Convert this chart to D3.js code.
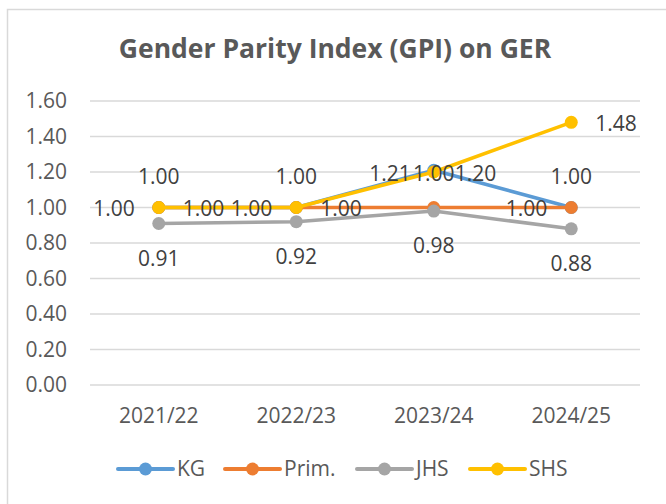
<!DOCTYPE html>
<html>
<head>
<meta charset="utf-8">
<script src="https://cdn.jsdelivr.net/npm/d3@7"></script>
<style>
  body { margin: 0; background: #fff; }
  svg { display: block; font-family: "Open Sans", sans-serif; }
</style>
</head>
<body>
<svg id="chart"></svg>
<script>
// data
const years = ["2021/22", "2022/23", "2023/24", "2024/25"];
const kg = [1.00, 1.00, 1.21, 1.00];
const prim = [1.00, 1.00, 1.00, 1.00];
const jhs = [0.91, 0.92, 0.98, 0.88];
const shs = [1.00, 1.00, 1.20, 1.48];
const yTicks = [0, 0.2, 0.4, 0.6, 0.8, 1.0, 1.2, 1.4, 1.6];

const series = [
  { name: "KG", values: kg, color: "#5B9BD5", labelPos: "left" },
  { name: "Prim.", values: prim, color: "#ED7D31", labelPos: "top" },
  { name: "JHS", values: jhs, color: "#A5A5A5", labelPos: "bottom" },
  { name: "SHS", values: shs, color: "#FFC000", labelPos: "right" }
];

// labels squeezed together at 2023/24 (like excel did it)
const labelNudge = {
  "KG-2": [1, 2],
  "Prim.-2": [0, -3],
  "SHS-2": [-3, 0]
};

const width = 666, height = 504;
const svg = d3.select("#chart").attr("width", width).attr("height", height);

// chart frame (cropped at right / bottom)
svg.append("rect")
  .attr("x", 7.5).attr("y", 9.5)
  .attr("width", 700).attr("height", 520)
  .attr("fill", "#fff")
  .attr("stroke", "#d9d9d9").attr("stroke-width", 1.5);

svg.append("text")
  .attr("x", 335).attr("y", 58)
  .attr("text-anchor", "middle")
  .attr("font-size", "26.5px")
  .attr("font-weight", "bold")
  .attr("fill", "#595959")
  .text("Gender Parity Index (GPI) on GER");

const x = d3.scaleBand().domain(years).range([90, 640]);
const y = d3.scaleLinear().domain([0, 1.6]).range([385, 101]);
const cx = d => x(d) + x.bandwidth() / 2;

// gridlines
svg.append("g")
  .selectAll("line")
  .data(yTicks)
  .join("line")
  .attr("x1", 90).attr("x2", 640)
  .attr("y1", d => y(d)).attr("y2", d => y(d))
  .attr("stroke", "#d9d9d9").attr("stroke-width", 1.3);

// y axis labels
const yAxis = svg.append("g")
  .attr("transform", "translate(67,0)")
  .call(d3.axisLeft(y).tickValues(yTicks).tickFormat(d3.format(".2f")).tickSize(0).tickPadding(0));
yAxis.select(".domain").remove();
yAxis.selectAll("text")
  .attr("font-family", "Open Sans, sans-serif")
  .attr("font-size", "21px")
  .attr("fill", "#595959");

// x axis labels
const xAxis = svg.append("g")
  .attr("transform", "translate(0,408)")
  .call(d3.axisBottom(x).tickSize(0).tickPadding(0));
xAxis.select(".domain").remove();
xAxis.selectAll("text")
  .attr("font-family", "Open Sans, sans-serif")
  .attr("font-size", "21px")
  .attr("fill", "#595959");

const line = d3.line().x((d, i) => cx(years[i])).y(d => y(d));

// lines and markers, in series order
series.forEach(s => {
  const g = svg.append("g");
  g.append("path")
    .datum(s.values)
    .attr("d", line)
    .attr("fill", "none")
    .attr("stroke", s.color)
    .attr("stroke-width", 3.5)
    .attr("stroke-linejoin", "round");
  g.selectAll("circle")
    .data(s.values)
    .join("circle")
    .attr("cx", (d, i) => cx(years[i]))
    .attr("cy", d => y(d))
    .attr("r", 6.5)
    .attr("fill", s.color);
});

// data labels
const fmt = d3.format(".2f");
series.forEach(s => {
  svg.append("g")
    .selectAll("text")
    .data(s.values)
    .join("text")
    .attr("x", (d, i) => {
      const px = cx(years[i]);
      const n = labelNudge[s.name + "-" + i] || [0, 0];
      if (s.labelPos == "left") return px - 24 + n[0];
      if (s.labelPos == "right") return px + 24 + n[0];
      return px + n[0];
    })
    .attr("y", (d, i) => {
      const py = y(d);
      const n = labelNudge[s.name + "-" + i] || [0, 0];
      if (s.labelPos == "top") return py - 31 + n[1];
      if (s.labelPos == "bottom") return py + 35 + n[1];
      return py + 1.5 + n[1];
    })
    .attr("dy", "0.35em")
    .attr("text-anchor", s.labelPos == "left" ? "end" : (s.labelPos == "right" ? "start" : "middle"))
    .attr("font-size", "21px")
    .attr("fill", "#404040")
    .text(d => fmt(d));
});

// legend
const legendX = [118, 225, 357, 470];
const legend = svg.append("g")
  .selectAll("g")
  .data(series)
  .join("g")
  .attr("transform", (d, i) => `translate(${legendX[i]},469)`);
legend.append("line")
  .attr("x1", 0).attr("x2", 55)
  .attr("stroke", d => d.color)
  .attr("stroke-width", 4)
  .attr("stroke-linecap", "round");
legend.append("circle")
  .attr("cx", 27.5).attr("r", 6.5)
  .attr("fill", d => d.color);
legend.append("text")
  .attr("x", 59).attr("dy", "0.35em")
  .attr("font-size", "21px")
  .attr("fill", "#595959")
  .text(d => d.name);
</script>
</body>
</html>
